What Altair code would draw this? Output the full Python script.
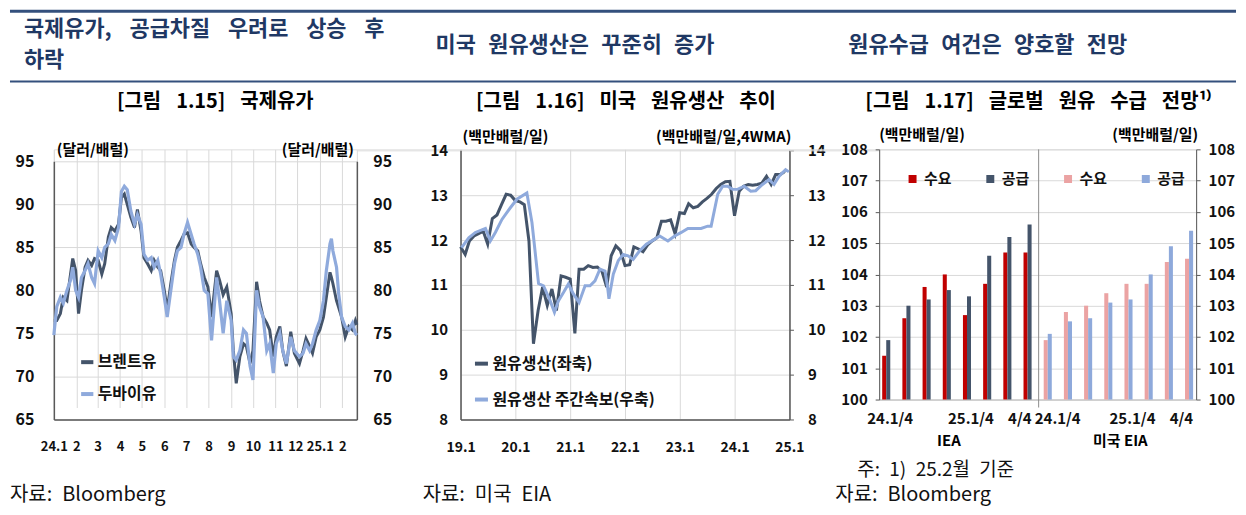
import altair as alt
import pandas as pd

FONT = "Noto Sans CJK KR"
NAVY = "#1F3864"
RULE = "#34507D"
GRID = "#D9D9D9"
AXIS = "#595959"
SP = "\u2002\u2005"          # word gap used in panel titles
SPH = "\u2002\u200A"         # word gap used in section headers
SPJ = "\u2002\u2005\u200A"   # justified first header line

# ---------------- Panel 1: 국제유가 ----------------
oil_dates = [
    "2024-01-01", "2024-01-05", "2024-01-10", "2024-01-14", "2024-01-19", "2024-01-24", "2024-01-27", "2024-01-31",
    "2024-02-04", "2024-02-08", "2024-02-13", "2024-02-17", "2024-02-22", "2024-02-26",
    "2024-03-02", "2024-03-07", "2024-03-11", "2024-03-16", "2024-03-20", "2024-03-25", "2024-03-30",
    "2024-04-03", "2024-04-07", "2024-04-11", "2024-04-16", "2024-04-21", "2024-04-25", "2024-04-30",
    "2024-05-04", "2024-05-09", "2024-05-14", "2024-05-18", "2024-05-23", "2024-05-27",
    "2024-06-01", "2024-06-05", "2024-06-10", "2024-06-15", "2024-06-19", "2024-06-24", "2024-06-28",
    "2024-07-03", "2024-07-08", "2024-07-12", "2024-07-17", "2024-07-21", "2024-07-26", "2024-07-31",
    "2024-08-05", "2024-08-12", "2024-08-16", "2024-08-21", "2024-08-26",
    "2024-09-01", "2024-09-04", "2024-09-08", "2024-09-13", "2024-09-18", "2024-09-22", "2024-09-27",
    "2024-10-01", "2024-10-06", "2024-10-10", "2024-10-15", "2024-10-20", "2024-10-24", "2024-10-29",
    "2024-11-02", "2024-11-07", "2024-11-11", "2024-11-16", "2024-11-22", "2024-11-27",
    "2024-12-04", "2024-12-09", "2024-12-13", "2024-12-18", "2024-12-22", "2024-12-27",
    "2025-01-01", "2025-01-06", "2025-01-10", "2025-01-15", "2025-01-17", "2025-01-19", "2025-01-24", "2025-01-27", "2025-01-31",
    "2025-02-05", "2025-02-10", "2025-02-15", "2025-02-19", "2025-02-21",
]
brent = [
    76.5, 76.5, 77.3, 79.2, 78.8, 81.9, 83.7, 82.3,
    77.3, 80.0, 82.7, 83.5, 82.9, 83.7,
    83.5, 81.9, 83.1, 86.2, 87.3, 86.9, 87.7,
    90.8, 91.2, 90.0, 88.5, 87.3, 89.4, 86.9,
    83.8, 83.1, 82.3, 83.5, 82.7, 82.3,
    80.0, 77.7, 80.8, 83.5, 85.0, 85.8, 86.5,
    86.7, 85.4, 85.0, 84.6, 83.1, 81.5, 80.4,
    76.9, 82.3, 81.2, 79.5, 80.4,
    77.3, 73.0, 69.2, 72.3, 73.8, 73.5, 71.5,
    73.0, 81.0, 78.8, 76.9, 76.2, 75.4, 72.3,
    74.6, 75.8, 73.0, 71.2, 75.2, 72.7,
    71.5, 73.0, 74.4, 73.5, 72.7, 74.6,
    75.4, 76.9, 79.2, 82.1, 81.5, 80.8, 78.8, 78.0, 76.9,
    74.6, 75.8, 75.4, 76.5, 76.0,
]
dubai = [
    74.8, 78.1, 79.2, 78.5, 80.0, 81.2, 82.7, 80.0,
    79.2, 81.5, 82.3, 83.1, 81.5, 80.8,
    84.6, 83.8, 85.0, 85.4, 86.5, 85.8, 87.3,
    91.5, 92.1, 91.7, 89.2, 87.7, 88.8, 87.7,
    84.2, 83.5, 83.8, 82.7, 83.5, 81.9,
    79.2, 76.9, 80.0, 83.1, 84.6, 85.0, 86.5,
    87.9, 86.5, 85.4, 84.2, 82.7, 80.0, 79.6,
    74.2, 81.5, 78.8, 75.0, 78.8,
    76.5, 72.3, 71.9, 73.0, 75.4, 75.0, 71.2,
    69.6, 80.0, 78.1, 76.9, 73.0, 73.8, 70.4,
    73.8, 75.0, 73.0, 71.5, 74.6, 73.0,
    72.3, 72.7, 73.8, 73.0, 73.8, 75.4,
    76.5, 78.8, 82.3, 85.4, 86.0, 84.6, 82.7, 79.6, 76.9,
    75.8, 75.4, 76.2, 75.0, 74.8,
]
oil_names = ["브렌트유", "두바이유"]
assert len(oil_dates) == len(brent) == len(dubai)

# ---------------- Panel 2: 미국 원유생산 ----------------
prod_months = list(pd.date_range("2019-01-01", periods=72, freq="MS").strftime("%Y-%m-%d"))
prod = [
    11.85, 11.68, 11.98, 12.09, 12.14, 12.20, 11.91, 12.48, 12.56, 12.79, 13.02, 13.00,
    12.88, 12.85, 12.79, 11.98, 9.69, 10.43, 10.95, 10.54, 10.91, 10.43, 11.20, 11.17,
    11.13, 9.92, 11.35, 11.35, 11.43, 11.39, 11.40, 11.30, 10.95, 11.65, 11.87, 11.77,
    11.43, 11.45, 11.85, 11.80, 11.74, 11.89, 11.98, 12.05, 12.42, 12.42, 12.45, 12.14,
    12.61, 12.59, 12.81, 12.72, 12.75, 12.85, 12.93, 13.02, 13.15, 13.24, 13.30, 13.31,
    12.54, 13.09, 13.20, 13.24, 13.22, 13.24, 13.27, 13.42, 13.24, 13.46, 13.46, 13.53,
]
wma_dates = [
    "2019-01-08", "2019-02-25", "2019-04-10", "2019-06-16", "2019-07-19", "2019-08-21", "2019-10-04", "2019-11-29",
    "2020-01-12", "2020-03-18", "2020-04-21", "2020-06-04", "2020-07-07", "2020-08-20", "2020-09-18", "2020-10-15",
    "2020-11-17", "2020-12-20", "2021-01-22", "2021-03-01", "2021-04-10", "2021-05-13", "2021-06-15", "2021-07-18",
    "2021-08-21", "2021-09-07", "2021-09-16", "2021-10-15", "2021-11-17", "2021-12-20", "2022-01-22", "2022-02-24",
    "2022-04-09", "2022-05-23", "2022-07-18", "2022-08-20", "2022-10-14", "2022-11-28", "2023-01-11", "2023-02-24",
    "2023-04-09", "2023-05-23", "2023-07-06", "2023-07-29", "2023-09-11", "2023-10-14", "2023-11-16", "2023-12-19",
    "2024-01-21", "2024-03-05", "2024-04-18", "2024-05-21", "2024-07-05", "2024-08-18", "2024-09-20", "2024-10-23",
    "2024-12-06", "2024-12-28",
]
wma = [
    11.83, 12.05, 12.17, 12.26, 11.98, 12.17, 12.46, 12.72,
    12.91, 13.05, 12.39, 11.03, 10.98, 10.65, 10.39, 10.65,
    10.83, 11.02, 10.80, 10.61, 10.98, 10.98, 11.09, 11.35,
    11.31, 10.95, 10.69, 11.24, 11.54, 11.68, 11.65, 11.57,
    11.76, 11.91, 12.02, 12.09, 11.98, 12.09, 12.17, 12.26,
    12.26, 12.26, 12.31, 12.31, 13.02, 13.20, 13.20, 13.13,
    13.13, 13.20, 13.09, 13.10, 13.24, 13.35, 13.24, 13.42,
    13.57, 13.52,
]
prod_names = ["원유생산(좌축)", "원유생산 주간속보(우축)"]
assert len(wma_dates) == len(wma) and len(prod) == len(prod_months)

# ---------------- Panel 3: 글로벌 원유 수급 전망 ----------------
quarters = ["24.1/4", "24.2/4", "24.3/4", "24.4/4", "25.1/4", "25.2/4", "25.3/4", "25.4/4"]
iea_demand = [101.4, 102.6, 103.6, 104.0, 102.7, 103.7, 104.7, 104.7]
iea_supply = [101.9, 103.0, 103.2, 103.5, 103.3, 104.6, 105.2, 105.6]
eia_demand = [101.9, 102.8, 103.0, 103.4, 103.7, 103.7, 104.4, 104.5]
eia_supply = [102.1, 102.5, 102.6, 103.1, 103.2, 104.0, 104.9, 105.4]
series3 = ["IEA 수요", "IEA 공급", "EIA 수요", "EIA 공급"]
colors3 = ["#C00000", "#44546A", "#EBA3A3", "#8EA9DB"]

# ---------------- helpers ----------------
one = pd.DataFrame({"k": [0]})


def txt(s, x, y, size, weight="bold", color="#000000", align="left"):
    return alt.Chart(one).mark_text(
        text=s, font=FONT, fontSize=size, fontWeight=weight, color=color,
        align=align, baseline="middle",
    ).encode(x=alt.value(x), y=alt.value(y))


def hrule(x1, x2, y, w, color):
    return alt.Chart(one).mark_rule(color=color, strokeWidth=w).encode(
        x=alt.value(x1), x2=alt.value(x2), y=alt.value(y))


def spacer(w):
    return alt.Chart(one).mark_text(text="").encode(
        x=alt.value(0), y=alt.value(0)).properties(width=w, height=1)


def lab(size):
    return dict(labelFont=FONT, labelFontSize=size, labelFontWeight="bold", labelColor="#111111")


# ================= Panel 1 =================
d1 = pd.DataFrame({
    "date": oil_dates * 2,
    "price": brent + dubai,
    "s": [oil_names[0]] * len(brent) + [oil_names[1]] * len(dubai),
})
x1 = alt.X(
    "date:T", title=None,
    scale=alt.Scale(type="utc", domain=[alt.DateTime(year=2024, month=1, date=1, utc=True),
                                        alt.DateTime(year=2025, month=2, date=21, utc=True)]),
    axis=alt.Axis(
        tickCount=alt.TimeIntervalStep(interval="month", step=1),
        labelExpr="utcmonth(datum.value) == 0 ? utcFormat(datum.value, '%y') + '.1' : '' + (utcmonth(datum.value) + 1)",
        labelFlush=False, labelOverlap=False, grid=True, gridColor=GRID, ticks=False,
        domainColor=AXIS, domainWidth=1.5, labelPadding=21,
        labelOffset={"condition": {"test": "utcmonth(datum.value) == 11", "value": -2}, "value": 0},
        **lab(13)),
)
ysc1 = alt.Scale(domain=[65, 95], range=[271, 12], nice=False, zero=False)
vals1 = [65, 70, 75, 80, 85, 90, 95]
yl1 = alt.Y("price:Q", title=None, scale=ysc1,
            axis=alt.Axis(values=vals1, grid=True, gridColor=GRID, ticks=False,
                          domainColor=AXIS, domainWidth=1.5, labelPadding=20, **lab(16)))
yr1 = alt.Y("price:Q", title=None, scale=ysc1,
            axis=alt.Axis(orient="right", values=vals1, grid=False, ticks=False,
                          domainColor=AXIS, domainWidth=1.5, labelPadding=16, **lab(16)))
col1 = alt.Color("s:N", scale=alt.Scale(domain=oil_names, range=["#44546A", "#8FAADC"]),
                 legend=alt.Legend(orient="none", legendX=25, legendY=205, title=None,
                                   symbolType="stroke", symbolStrokeWidth=4, symbolSize=150,
                                   labelFont=FONT, labelFontSize=16, labelFontWeight="bold",
                                   labelColor="#111111", rowPadding=15, labelOffset=2, padding=0,
                                   labelLimit=300))
brent_line = alt.Chart(d1).transform_filter(alt.datum.s == oil_names[0]).mark_line(
    strokeWidth=3).encode(x=x1, y=yl1, color=col1)
dubai_line = alt.Chart(d1).transform_filter(alt.datum.s == oil_names[1]).mark_line(
    strokeWidth=3.2).encode(x=x1, y=yl1, color=col1)
lines1 = alt.layer(brent_line, dubai_line)
right1 = alt.Chart(d1).mark_point(opacity=0).encode(x=x1, y=yr1)

texts1 = [
    hrule(-44, 1186, -138.5, 3, RULE),
    hrule(-44, 1186, -68, 2, RULE),
    txt(SPJ.join(["국제유가,", "공급차질", "우려로", "상승", "후"]), -30, -121, 22, color=NAVY),
    txt("하락", -30, -90, 22, color=NAVY),
    txt(SP.join(["[그림", "1.15]", "국제유가"]), 162, -47, 20, align="center"),
    txt("(달러/배럴)", 3, 1, 15),
    txt("(달러/배럴)", 301, 1, 15, align="right"),
    txt("자료:\u2002Bloomberg", -44, 347, 20, weight="normal", color="#111111"),
]
panel1 = alt.layer(lines1, right1, *texts1).resolve_scale(y="independent").properties(
    width=304, height=271)

# ================= Panel 2 =================
d2a = pd.DataFrame({"date": prod_months, "v": prod, "s": prod_names[0]})
d2b = pd.DataFrame({"date": wma_dates, "v": wma, "s": prod_names[1]})
x2 = alt.X(
    "date:T", title=None,
    scale=alt.Scale(type="utc", domain=[alt.DateTime(year=2019, month=1, date=1, utc=True),
                                        alt.DateTime(year=2025, month=1, date=1, utc=True)]),
    axis=alt.Axis(
        tickCount=alt.TimeIntervalStep(interval="year", step=1),
        labelExpr="utcFormat(datum.value, '%y') + '.1'",
        labelFlush=False, labelOverlap=False, grid=True, gridColor=GRID, ticks=False,
        domainColor=AXIS, domainWidth=1.5, labelPadding=21, **lab(14)),
)
vals2 = [8, 9, 10, 11, 12, 13, 14]
yl2 = alt.Y("v:Q", title=None,
            scale=alt.Scale(domain=[8, 14], range=[271, 1], nice=False, zero=False),
            axis=alt.Axis(values=vals2, grid=True, gridColor=GRID, ticks=False,
                          domainColor=AXIS, domainWidth=1.5, labelPadding=13, **lab(15)))
yr2 = alt.Y("v:Q", title=None,
            scale=alt.Scale(domain=[8, 14], range=[271, 1], nice=False, zero=False),
            axis=alt.Axis(orient="right", values=vals2, grid=False, ticks=True, tickSize=4,
                          tickColor=AXIS, domainColor=AXIS, domainWidth=1.5, labelPadding=14, **lab(15)))
col2 = alt.Color("s:N", scale=alt.Scale(domain=prod_names, range=["#44546A", "#8FAADC"]),
                 legend=alt.Legend(orient="none", legendX=12, legendY=206, title=None,
                                   symbolType="stroke", symbolStrokeWidth=4, symbolSize=170,
                                   labelFont=FONT, labelFontSize=16, labelFontWeight="bold",
                                   labelColor="#111111", rowPadding=19, labelOffset=2, padding=0,
                                   labelLimit=300))
prod_line = alt.Chart(d2a).mark_line(strokeWidth=3).encode(x=x2, y=yl2, color=col2)
wma_line = alt.Chart(d2b).mark_line(strokeWidth=3).encode(x=x2, y=yr2, color=col2)
texts2 = [
    txt(SPH.join(["미국", "원유생산은", "꾸준히", "증가"]), -25, -105, 22, color=NAVY),
    txt(SP.join(["[그림", "1.16]", "미국", "원유생산", "추이"]), 166, -47, 20, align="center"),
    txt("(백만배럴/일)", 2, -12, 15),
    txt("(백만배럴/일,4WMA)", 332, -12, 15, align="right"),
    txt("자료:\u2002미국\u2002EIA", -38, 347, 20, weight="normal", color="#111111"),
]
panel2 = alt.layer(prod_line, wma_line, *texts2).resolve_scale(y="independent").properties(
    width=330, height=271)

# ================= Panel 3 =================
rows = []
for src, dem, sup in [("IEA", iea_demand, iea_supply), ("EIA", eia_demand, eia_supply)]:
    for i, q in enumerate(quarters):
        rows.append({"cat": f"{src}|{q}", "kind": "수요", "series": f"{src} 수요", "v": dem[i]})
        rows.append({"cat": f"{src}|{q}", "kind": "공급", "series": f"{src} 공급", "v": sup[i]})
d3 = pd.DataFrame(rows)
cats = [f"IEA|{q}" for q in quarters] + [f"EIA|{q}" for q in quarters]
x3 = alt.X(
    "cat:N", sort=cats, title=None,
    scale=alt.Scale(paddingInner=0.6, paddingOuter=0.15),
    axis=alt.Axis(
        labelExpr="indexof(datum.value, '24.1/4') >= 0 ? '24.1/4' : indexof(datum.value, '25.1/4') >= 0 ? '25.1/4' : indexof(datum.value, '25.4/4') >= 0 ? '4/4' : ''",
        labelAngle=0, ticks=False, domainColor="#BFBFBF", labelPadding=12, labelOverlap=False,
        labelAlign={"condition": {"test": "indexof(datum.value, '25.4/4') >= 0", "value": "right"},
                    "value": "center"},
        labelOffset={"condition": {"test": "datum.value == 'EIA|24.1/4'", "value": 10}, "value": 4},
        **lab(15)),
)
xo3 = alt.XOffset("kind:N", sort=["수요", "공급"], scale=alt.Scale(paddingInner=0, paddingOuter=0))
vals3 = list(range(100, 109))
yl3 = alt.Y("v:Q", title=None, scale=alt.Scale(domain=[100, 108], nice=False, zero=False),
            axis=alt.Axis(values=vals3, grid=True, gridColor=GRID, ticks=True, tickSize=4,
                          tickColor=AXIS, domainColor=AXIS, labelPadding=8, **lab(15)))
yr3 = alt.Y("v:Q", title=None, scale=alt.Scale(domain=[100, 108], nice=False, zero=False),
            axis=alt.Axis(orient="right", values=vals3, grid=False, ticks=True, tickSize=4,
                          tickColor=AXIS, domainColor=AXIS, labelPadding=8, **lab(15)))
col3 = alt.Color("series:N", scale=alt.Scale(domain=series3, range=colors3),
                 legend=alt.Legend(orient="none", legendX=26, legendY=22, direction="horizontal",
                                   title=None, symbolType="square", symbolSize=64,
                                   symbolStrokeWidth=0, labelExpr="split(datum.label, ' ')[1]",
                                   columnPadding=31, labelOffset=4, padding=0,
                                   labelFont=FONT, labelFontSize=15, labelFontWeight="bold",
                                   labelColor="#111111"))
bars3 = alt.Chart(d3).mark_bar().encode(x=x3, xOffset=xo3, y=yl3, y2=alt.datum(100), color=col3)
right3 = alt.Chart(d3).mark_point(opacity=0).encode(x=x3, y=yr3)
sep3 = alt.Chart(one).mark_rule(color="#8C8C8C", strokeWidth=1).encode(
    x=alt.value(160), y=alt.value(0), y2=alt.value(259))
texts3 = [
    sep3,
    txt(SPH.join(["원유수급", "여건은", "양호할", "전망"]), -31, -105, 22, color=NAVY),
    txt(SP.join(["[그림", "1.17]", "글로벌", "원유", "수급", "전망¹⁾"]), 160, -47, 20, align="center"),
    txt("(백만배럴/일)", 0, -14, 15),
    txt("(백만배럴/일)", 320, -14, 15, align="right"),
    txt("IEA", 70, 293, 15, align="center"),
    txt("미국 EIA", 242, 293, 15, align="center"),
    txt("주:\u20021)\u200225.2월\u2002기준", -22, 322, 19, weight="normal", color="#111111"),
    txt("자료:\u2002Bloomberg", -44, 347, 20, weight="normal", color="#111111"),
]
panel3 = alt.layer(bars3, right3, *texts3).resolve_scale(y="independent").properties(
    width=318, height=251)

chart = alt.hconcat(
    panel1, spacer(104), panel2, spacer(90), panel3, spacing=0, bounds="flush"
).resolve_scale(color="independent").properties(padding=0).configure_view(
    stroke=None).configure(font=FONT)

chart.save("out.html", embed_options={"renderer": "svg", "actions": False})
